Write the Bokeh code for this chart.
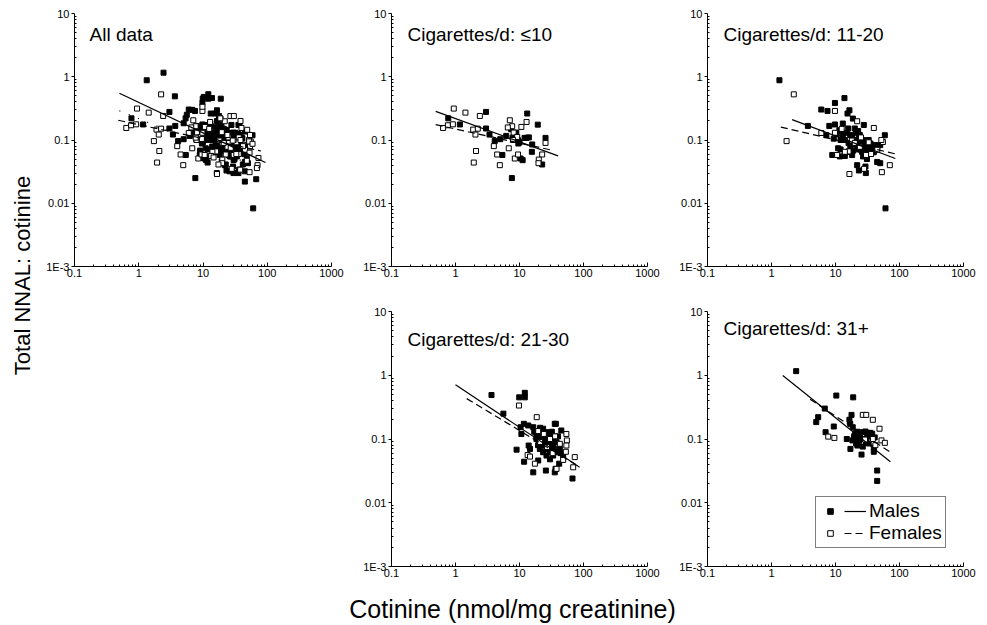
from math import pi
from bokeh.plotting import figure
from bokeh.layouts import row, column
from bokeh.models import (FixedTicker, Range1d, Legend, LegendItem, Spacer, Label,
                          CustomJSTickFormatter)
from bokeh.embed import file_html
from bokeh.resources import INLINE

FONT = "Liberation Sans"

# ---------------- tick values ----------------
x_major = [0.1, 1, 10, 100, 1000]
y_major = [0.001, 0.01, 0.1, 1, 10]
x_minor = [m * 10.0 ** e for e in range(-1, 3) for m in range(2, 10)]
y_minor = [m * 10.0 ** e for e in range(-3, 1) for m in range(2, 10)]

# ---------------- data: cigarettes/d <=10 ----------------
m10_x = [0.77, 1.17, 3.0, 3.0, 3.4, 4.1, 5.0, 6.2, 7.4, 8.9, 7.8, 9.5, 9.6, 12.0, 12.9,
         15.8, 15.6, 25.5, 22.6, 10.4, 11.2, 5.4, 7.6, 13.2, 19.3, 10.0, 14.0]
m10_y = [0.22, 0.176, 0.278, 0.152, 0.122, 0.096, 0.103, 0.116, 0.148, 0.131, 0.109, 0.099,
         0.088, 0.108, 0.108, 0.085, 0.065, 0.108, 0.041, 0.051, 0.048, 0.058, 0.025, 0.262,
         0.175, 0.092, 0.11]
f10_x = [0.94, 1.43, 2.4, 0.64, 0.76, 0.91, 1.89, 2.23, 2.05, 2.09, 1.93, 4.93, 3.97, 4.48,
         7.06, 7.68, 6.57, 10.7, 12.9, 8.1, 6.8, 9.2, 8.45, 9.5, 25.5, 22.6, 20.0, 19.8, 7.9]
f10_y = [0.314, 0.271, 0.24, 0.155, 0.171, 0.177, 0.146, 0.151, 0.122, 0.067, 0.044, 0.040,
         0.080, 0.059, 0.205, 0.165, 0.158, 0.161, 0.193, 0.131, 0.074, 0.112, 0.051, 0.059,
         0.090, 0.059, 0.049, 0.043, 0.10]

# ---------------- data: cigarettes/d 11-20 ----------------
m20_x = [1.33, 13.8, 9.8, 16.5, 15.4, 6.0, 7.5, 18.7, 3.7, 8.0, 9.8, 13.0, 27.7, 7.2, 11.5,
         15.8, 20.0, 22.6, 9.4, 12.9, 18.2, 23.2, 29.4, 35.2, 42.0, 50.0, 59.0, 11.0, 12.0,
         14.0, 11.7, 8.9, 18.2, 23.2, 29.4, 33.6, 39.7, 44.8, 50.0, 21.8, 23.2, 29.4, 29.8,
         60.4, 17, 19, 21, 24, 26, 28, 31, 20, 22, 25, 27, 30, 16, 14, 17, 19, 33, 36, 24,
         21, 26, 15, 13, 38, 45, 10.5, 12, 16, 27, 31]
m20_y = [0.88, 0.46, 0.385, 0.295, 0.262, 0.303, 0.288, 0.218, 0.167, 0.167, 0.176, 0.182,
         0.173, 0.119, 0.143, 0.152, 0.152, 0.139, 0.105, 0.108, 0.117, 0.108, 0.099, 0.088,
         0.083, 0.083, 0.119, 0.074, 0.071, 0.056, 0.055, 0.058, 0.058, 0.071, 0.062, 0.072,
         0.064, 0.045, 0.043, 0.040, 0.033, 0.038, 0.030, 0.0083, 0.12, 0.10, 0.095, 0.09,
         0.10, 0.085, 0.08, 0.085, 0.075, 0.07, 0.075, 0.07, 0.09, 0.10, 0.08, 0.068, 0.10,
         0.075, 0.12, 0.13, 0.065, 0.13, 0.125, 0.068, 0.078, 0.125, 0.10, 0.065, 0.055, 0.05]
f20_x = [2.23, 9.8, 1.72, 21.8, 39.7, 6.0, 9.8, 12.5, 55, 52, 70.6, 53, 16.5, 10.6, 18, 25,
         30, 36, 28, 16, 20, 33, 45, 24, 14]
f20_y = [0.527, 0.288, 0.096, 0.198, 0.155, 0.129, 0.13, 0.15, 0.093, 0.10, 0.040, 0.031,
         0.029, 0.058, 0.098, 0.11, 0.058, 0.06, 0.035, 0.066, 0.09, 0.092, 0.07, 0.078, 0.065]

# ---------------- data: cigarettes/d 21-30 ----------------
m30_x = [3.65, 12.1, 12.1, 9.9, 5.6, 11.7, 13.7, 16.4, 10.4, 10.7, 35.6, 37, 45, 9.0, 13.9,
         14.6, 11.8, 16.4, 25.8, 35.6, 36.5, 41.7, 67.3, 19.6, 33.6, 29.8, 18.4, 20.8, 23.4,
         26.4, 29.8, 20.8, 23.4, 26.4, 18.4, 23.4, 29.8, 33.6, 37.9, 33.6, 26.4, 23.4, 20.8,
         29.8, 37.9, 42.7, 48.1, 26.4, 22, 25, 28, 31, 19.5, 24.5, 27, 32, 40, 17, 21, 35,
         30, 44]
m30_y = [0.49, 0.53, 0.45, 0.45, 0.25, 0.173, 0.163, 0.153, 0.153, 0.12, 0.173, 0.173, 0.136,
         0.068, 0.079, 0.07, 0.044, 0.030, 0.032, 0.030, 0.034, 0.041, 0.024, 0.046, 0.055,
         0.062, 0.10, 0.089, 0.079, 0.10, 0.089, 0.128, 0.114, 0.128, 0.114, 0.145, 0.114,
         0.10, 0.089, 0.079, 0.07, 0.062, 0.07, 0.07, 0.062, 0.07, 0.055, 0.055, 0.105, 0.095,
         0.08, 0.095, 0.08, 0.088, 0.113, 0.13, 0.11, 0.13, 0.15, 0.07, 0.048, 0.06]
f30_x = [9.8, 18.6, 54, 55, 54, 53, 73, 69, 13.4, 14.6, 17.4, 37.9, 48.1, 19.6, 42.7, 24,
         30, 27, 36, 21, 33]
f30_y = [0.335, 0.22, 0.12, 0.095, 0.079, 0.063, 0.052, 0.036, 0.056, 0.053, 0.041, 0.034,
         0.047, 0.133, 0.084, 0.12, 0.10, 0.075, 0.11, 0.09, 0.06]

# ---------------- data: cigarettes/d 31+ ----------------
m31_x = [2.43, 10.3, 18.9, 6.8, 5.36, 5.0, 9.4, 7.0, 17.8, 16.5, 17, 18.6, 20.3, 22, 20.8,
         23.4, 26.7, 29.4, 33.2, 37.4, 31.3, 41, 18.4, 17.1, 22, 26.7, 25.5, 39.7, 39.7,
         44.8, 44.8, 15, 24, 28, 30, 35, 21, 19.5, 33]
m31_y = [1.16, 0.48, 0.45, 0.30, 0.22, 0.184, 0.157, 0.128, 0.239, 0.20, 0.173, 0.153, 0.123,
         0.13, 0.10, 0.094, 0.128, 0.131, 0.124, 0.121, 0.109, 0.106, 0.095, 0.070, 0.079,
         0.076, 0.057, 0.073, 0.063, 0.032, 0.022, 0.10, 0.11, 0.10, 0.09, 0.125, 0.085,
         0.11, 0.085]
f31_x = [26.7, 30.2, 38.3, 48.7, 7.7, 9.6, 38.3, 52.3, 59, 29, 42]
f31_y = [0.239, 0.239, 0.20, 0.145, 0.109, 0.104, 0.10, 0.095, 0.087, 0.098, 0.08]

# ---------------- regression lines (end points) ----------------
fit_all_m_x, fit_all_m_y = [0.5, 94], [0.55, 0.044]
fit_all_f_x, fit_all_f_y = [0.48, 80], [0.205, 0.067]
fit_all_o_x, fit_all_o_y = [0.5, 88], [0.29, 0.034]
fit10_m_x, fit10_m_y = [0.49, 40], [0.284, 0.056]
fit10_f_x, fit10_f_y = [0.49, 30], [0.175, 0.07]
fit20_m_x, fit20_m_y = [2.1, 86], [0.21, 0.051]
fit20_f_x, fit20_f_y = [1.4, 95], [0.16, 0.059]
fit30_m_x, fit30_m_y = [1.0, 87], [0.71, 0.036]
fit30_f_x, fit30_f_y = [1.5, 75], [0.43, 0.04]
fit31_m_x, fit31_m_y = [1.5, 72], [0.99, 0.044]
fit31_f_x, fit31_f_y = [4.0, 72], [0.42, 0.062]

titles = ["All data", "Cigarettes/d: \u226410", "Cigarettes/d: 11-20",
          "Cigarettes/d: 21-30", "Cigarettes/d: 31+"]

fmt_code = "return tick < 0.005 ? '1E-3' : String(tick);"


def style_axes(p):
    for ax, ticks, minor in ((p.xaxis[0], x_major, x_minor), (p.yaxis[0], y_major, y_minor)):
        ax.ticker = FixedTicker(ticks=ticks, minor_ticks=minor)
        ax.formatter = CustomJSTickFormatter(code=fmt_code)
        ax.axis_line_color = "black"
        ax.axis_line_width = 1
        ax.major_tick_line_color = "black"
        ax.minor_tick_line_color = "black"
        ax.major_label_text_font = FONT
        ax.major_label_text_font_size = "11px"
        ax.major_label_text_color = "black"
        ax.major_label_standoff = 2
    xa, ya = p.xaxis[0], p.yaxis[0]
    xa.major_tick_in, xa.major_tick_out = 4, 0
    xa.minor_tick_in, xa.minor_tick_out = 2, 0
    ya.major_tick_in, ya.major_tick_out = 0, 3
    ya.minor_tick_in, ya.minor_tick_out = 2, 0


def panel(title, title_dx, title_dy, mx, my, fx, fy, fm, ff, width, height, bl, br, bt, bb,
          fw, fh, extra=None):
    p = figure(width=width, height=height, x_axis_type="log", y_axis_type="log",
               x_range=Range1d(0.1, 1000), y_range=Range1d(0.001, 10),
               output_backend="svg", toolbar_location=None,
               min_border_left=bl, min_border_right=br, min_border_top=bt, min_border_bottom=bb)
    p.outline_line_color = None
    p.grid.visible = False
    style_axes(p)
    rm = p.scatter(mx, my, marker="square", size=5, fill_color="black", line_color="black",
                   line_width=1)
    rf = p.scatter(fx, fy, marker="square", size=5, fill_color="white", line_color="black",
                   line_width=1)
    lm = p.line(fm[0], fm[1], line_color="black", line_width=1.2)
    lf = p.line(ff[0], ff[1], line_color="black", line_width=1.2, line_dash="7 4")
    if extra is not None:
        p.line(extra[0], extra[1], line_color="black", line_width=1.2, line_dash="1 9")
    # title position given in pixels from the frame's top-left corner
    tx = 10 ** (-1 + 4.0 * title_dx / fw)
    ty = 10 ** (1 - 4.0 * title_dy / fh)
    p.add_layout(Label(x=tx, y=ty, text=title, text_font=FONT, text_font_size="19px",
                       text_align="left", text_baseline="alphabetic", text_color="black"))
    return p, rm, rf, lm, lf


FW, FH1, FH2 = 257, 253, 255
ROW1_H, ROW2_H = 298, 292

all_mx = m10_x + m20_x + m30_x + m31_x
all_my = m10_y + m20_y + m30_y + m31_y
all_fx = f10_x + f20_x + f30_x + f31_x
all_fy = f10_y + f20_y + f30_y + f31_y

p1, *_ = panel(titles[0], 15, 21, all_mx, all_my, all_fx, all_fy,
               (fit_all_m_x, fit_all_m_y), (fit_all_f_x, fit_all_f_y),
               305, ROW1_H, 34, 14, 13, ROW1_H - 13 - FH1, FW, FH1,
               extra=(fit_all_o_x, fit_all_o_y))
p2, *_ = panel(titles[1], 16, 21, m10_x, m10_y, f10_x, f10_y,
               (fit10_m_x, fit10_m_y), (fit10_f_x, fit10_f_y),
               315, ROW1_H, 46, 315 - 46 - 256, 13, ROW1_H - 13 - FH1, 256, FH1)
p3, *_ = panel(titles[2], 16, 21, m20_x, m20_y, f20_x, f20_y,
               (fit20_m_x, fit20_m_y), (fit20_f_x, fit20_f_y),
               327, ROW1_H, 47, 327 - 47 - 256, 13, ROW1_H - 13 - FH1, 256, FH1)
p4, *_ = panel(titles[3], 16, 28, m30_x, m30_y, f30_x, f30_y,
               (fit30_m_x, fit30_m_y), (fit30_f_x, fit30_f_y),
               315, ROW2_H, 46, 315 - 46 - 256, 13, ROW2_H - 13 - FH2, 256, FH2)
p5, rm5, rf5, lm5, lf5 = panel(titles[4], 16, 17, m31_x, m31_y, f31_x, f31_y,
                               (fit31_m_x, fit31_m_y), (fit31_f_x, fit31_f_y),
                               327, ROW2_H, 47, 327 - 47 - 256, 13, ROW2_H - 13 - FH2, 256, FH2)

legend = Legend(items=[LegendItem(label="", renderers=[rm5]),
                       LegendItem(label="", renderers=[rf5]),
                       LegendItem(label="Males", renderers=[lm5]),
                       LegendItem(label="Females", renderers=[lf5])],
                ncols=2, location=(108, 18), orientation="vertical")
legend.border_line_color = "black"
legend.border_line_width = 1
legend.background_fill_color = "white"
legend.background_fill_alpha = 1
legend.label_text_font = FONT
legend.label_text_font_size = "19px"
legend.label_text_color = "black"
legend.label_standoff = 3
legend.label_width = 0
legend.glyph_width = 22
legend.glyph_height = 14
legend.label_height = 14
legend.spacing = 0
legend.padding = 3
legend.margin = 0
p5.add_layout(legend)

# axis-title strips
ylab = figure(width=40, height=625, x_range=Range1d(0, 40), y_range=Range1d(0, 625),
              x_axis_location=None, y_axis_location=None, output_backend="svg",
              toolbar_location=None, min_border=0)
ylab.outline_line_color = None
ylab.grid.visible = False
ylab.add_layout(Label(x=22, y=625 - 275, text="Total NNAL: cotinine", angle=pi / 2,
                      text_align="center", text_baseline="middle", text_font=FONT,
                      text_font_size="22px", text_color="black"))

xlab = figure(width=947, height=35, x_range=Range1d(40, 987), y_range=Range1d(0, 35),
              x_axis_location=None, y_axis_location=None, output_backend="svg",
              toolbar_location=None, min_border=0)
xlab.outline_line_color = None
xlab.grid.visible = False
xlab.add_layout(Label(x=512, y=17, text="Cotinine (nmol/mg creatinine)",
                      text_align="center", text_baseline="alphabetic", text_font=FONT,
                      text_font_size="25px", text_color="black"))

layout = row(ylab, column(row(p1, p2, p3),
                          row(Spacer(width=305, height=ROW2_H), p4, p5),
                          xlab))

open("out.html", "w").write(file_html(layout, INLINE))
